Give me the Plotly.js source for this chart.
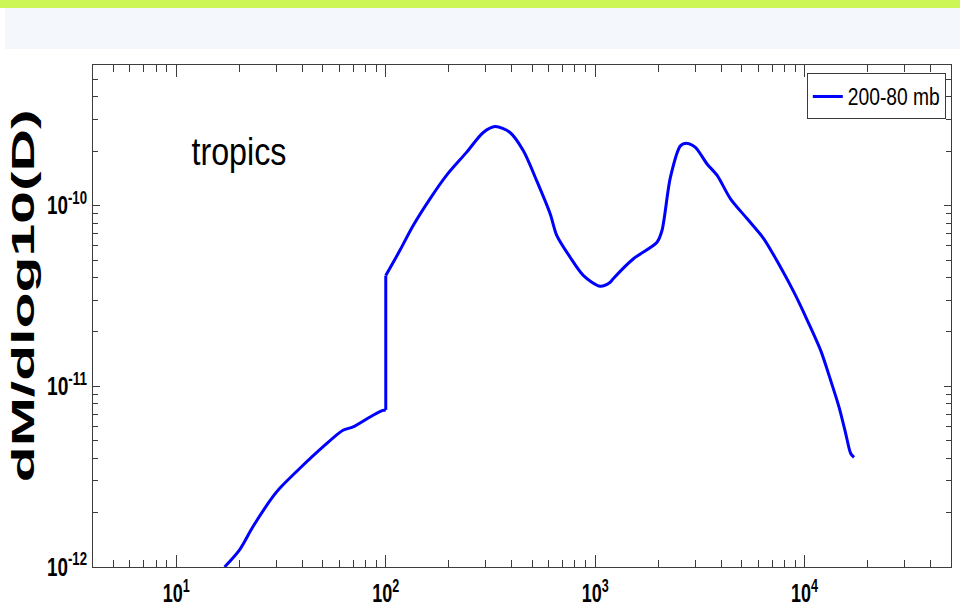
<!DOCTYPE html>
<html>
<head>
<meta charset="utf-8">
<script src="https://cdn.plot.ly/plotly-3.0.1.min.js"></script>
<style>
  html, body { margin: 0; padding: 0; background: #ffffff; }
  #wrap { position: relative; width: 960px; height: 606px; overflow: hidden; }
  #topbar { position: absolute; left: 0; top: 0; width: 960px; height: 8px; background: #ccf556; }
  #band { position: absolute; left: 5px; top: 8px; width: 955px; height: 41px; background: #f4f8fc; }
  #chart { position: absolute; left: 0; top: 0; width: 960px; height: 606px; }
</style>
</head>
<body>
<div id="wrap">
  <div id="topbar"></div>
  <div id="band"></div>
  <div id="chart"></div>
</div>
<script>
// Mass size distribution, 200-80 mb layer, tropics
// small particles, up to the step at D = 100
const diameterSmall = [17.0, 20.0, 23.2, 28.9, 31.1, 38.8, 50.1, 62.5, 69.8, 86.9, 97.0, 100];
const dMdlogDSmall = [1.0e-12, 1.24e-12, 1.67e-12, 2.45e-12, 2.72e-12, 3.51e-12, 4.62e-12,
  5.71e-12, 5.96e-12, 6.92e-12, 7.36e-12, 7.4e-12];
// large particles, from the step at D = 100
const diameterLarge = [100, 116.7, 135.2, 162.6, 195, 243, 292, 333, 392, 454, 526, 610, 656,
  759, 879, 1057, 1180, 1219, 1523, 1973, 2084, 2285, 2553, 2748, 3009, 3421, 3822, 4426,
  5321, 6385, 7677, 8890, 10300, 11930, 13310, 14590, 15710, 16600, 17210];
const dMdlogDLarge = [4.1e-11, 5.64e-11, 7.76e-11, 1.09e-10, 1.47e-10, 1.97e-10, 2.54e-10,
  2.74e-10, 2.54e-10, 2.01e-10, 1.37e-10, 8.99e-11, 6.82e-11, 5.18e-11, 4.10e-11, 3.58e-11,
  3.77e-11, 3.94e-11, 5.08e-11, 6.27e-11, 7.28e-11, 1.43e-10, 2.14e-10, 2.21e-10, 2.10e-10,
  1.70e-10, 1.47e-10, 1.09e-10, 8.45e-11, 6.55e-11, 4.56e-11, 3.32e-11, 2.32e-11, 1.58e-11,
  1.08e-11, 7.69e-12, 5.48e-12, 4.25e-12, 4.04e-12];

const seriesName = '200-80 mb';
const regionLabel = 'tropics';
const yTitle = 'dM/dlog10(D)';

const xTickVals = [10, 100, 1000, 10000];
const xTickText = ['10<sup>1</sup>', '10<sup>2</sup>', '10<sup>3</sup>', '10<sup>4</sup>'];
const yTickVals = [1e-12, 1e-11, 1e-10];
const yTickText = ['10<sup>-12</sup>', '10<sup>-11</sup>', '10<sup>-10</sup>'];

// minor ticks at 2..9 of every decade
function minorTicks(lo, hi) {
  const out = [];
  for (let e = lo; e <= hi; e++) {
    for (let m = 2; m <= 9; m++) out.push(m * Math.pow(10, e));
  }
  return out;
}

const sans = 'Liberation Sans, Arial, Helvetica, sans-serif';
const axisColor = '#3c3c3c';
const lineStyle = { color: '#0000ff', width: 3 };

const traces = [
  {
    x: diameterSmall, y: dMdlogDSmall, type: 'scatter', mode: 'lines',
    name: seriesName, legendgroup: 'g', showlegend: true,
    line: Object.assign({ shape: 'spline', smoothing: 0.8 }, lineStyle)
  },
  {
    // vertical step at D = 100
    x: [diameterSmall[diameterSmall.length - 1], diameterLarge[0]],
    y: [dMdlogDSmall[dMdlogDSmall.length - 1], dMdlogDLarge[0]],
    type: 'scatter', mode: 'lines', legendgroup: 'g', showlegend: false,
    line: Object.assign({ shape: 'linear' }, lineStyle)
  },
  {
    x: diameterLarge, y: dMdlogDLarge, type: 'scatter', mode: 'lines',
    legendgroup: 'g', showlegend: false,
    line: Object.assign({ shape: 'spline', smoothing: 0.8 }, lineStyle)
  }
];

const layout = {
  width: 960,
  height: 606,
  margin: { l: 93, r: 9, t: 65, b: 39, pad: 0 },
  paper_bgcolor: 'rgba(0,0,0,0)',
  plot_bgcolor: '#ffffff',
  showlegend: true,
  xaxis: {
    type: 'log',
    range: [Math.log10(4), Math.log10(50000)],
    tickmode: 'array',
    tickvals: xTickVals,
    ticktext: xTickText,
    ticks: 'inside',
    ticklen: 12,
    tickwidth: 1,
    tickcolor: axisColor,
    ticklabelstandoff: 4,
    showline: true,
    linecolor: axisColor,
    linewidth: 1,
    mirror: 'ticks',
    showgrid: false,
    zeroline: false,
    tickfont: { family: sans, size: 25, color: '#000000', weight: 'bold' },
    minor: {
      tickmode: 'array',
      tickvals: minorTicks(0, 4),
      ticks: 'inside',
      ticklen: 7,
      tickcolor: axisColor,
      showgrid: false
    }
  },
  yaxis: {
    type: 'log',
    range: [-12, Math.log10(6e-10)],
    tickmode: 'array',
    tickvals: yTickVals,
    ticktext: yTickText,
    ticks: 'inside',
    ticklen: 7,
    tickwidth: 1,
    tickcolor: axisColor,
    showline: true,
    linecolor: axisColor,
    linewidth: 1,
    mirror: 'ticks',
    showgrid: false,
    zeroline: false,
    tickfont: { family: sans, size: 25, color: '#000000', weight: 'bold' },
    minor: {
      tickmode: 'array',
      tickvals: minorTicks(-12, -10),
      ticks: 'inside',
      ticklen: 5,
      tickcolor: axisColor,
      showgrid: false
    }
  },
  legend: {
    x: 0.994,
    y: 0.984,
    xanchor: 'right',
    yanchor: 'top',
    bgcolor: '#ffffff',
    bordercolor: axisColor,
    borderwidth: 1,
    font: { family: sans, size: 23, color: '#000000' },
    itemwidth: 30,
    tracegroupgap: 0
  },
  annotations: [
    {
      text: yTitle,
      xref: 'paper', yref: 'paper',
      x: -0.081, y: 0.539,
      xanchor: 'center', yanchor: 'middle',
      textangle: -90,
      showarrow: false,
      font: { family: sans, size: 31, color: '#000000', weight: 'bold' }
    },
    {
      text: regionLabel,
      xref: 'paper', yref: 'paper',
      x: 0.103, y: 0.827,
      xanchor: 'left', yanchor: 'middle',
      showarrow: false,
      font: { family: sans, size: 38, color: '#000000' }
    }
  ]
};

// fit a text element to a given advance width (condensed or widened glyphs)
function fitWidth(el, w) {
  if (!el) return;
  el.setAttribute('textLength', String(w));
  el.setAttribute('lengthAdjust', 'spacingAndGlyphs');
}

function parseTranslate(s) {
  const m = /translate\(\s*([-\d.e]+)[ ,]+([-\d.e]+)\s*\)/.exec(s || '');
  return m ? [parseFloat(m[1]), parseFloat(m[2])] : [0, 0];
}

Plotly.newPlot('chart', traces, layout, { displayModeBar: false, staticPlot: true }).then(function (gd) {
  fitWidth(gd.querySelector('g.annotation[data-index="0"] text.annotation-text'), 373);
  fitWidth(gd.querySelector('g.annotation[data-index="1"] text.annotation-text'), 95);
  gd.querySelectorAll('g.xtick text').forEach(function (t) { fitWidth(t, 27); });
  gd.querySelectorAll('g.ytick text').forEach(function (t) { fitWidth(t, 40); });

  // condensed legend label; resize the legend box, keeping its right edge
  const leg = gd.querySelector('g.legend');
  const label = leg && leg.querySelector('text.legendtext');
  const bg = leg && leg.querySelector('rect.bg');
  const box = { top: 73, height: 45, center: 96 };
  if (label && bg) {
    const natural = label.getComputedTextLength();
    const target = 92;
    fitWidth(label, target);
    const oldW = parseFloat(bg.getAttribute('width'));
    const oldH = parseFloat(bg.getAttribute('height'));
    const newW = oldW - (natural - target);
    bg.setAttribute('width', String(newW));
    bg.setAttribute('height', String(box.height));
    const tr = parseTranslate(leg.getAttribute('transform'));
    leg.setAttribute('transform', 'translate(' + (tr[0] + oldW - newW) + ',' + box.top + ')');
    // keep the entry centred in the taller box
    const scroll = leg.querySelector('g.scrollbox');
    if (scroll) {
      const st = parseTranslate(scroll.getAttribute('transform'));
      const dy = (box.center - box.top) - oldH / 2;
      scroll.setAttribute('transform', 'translate(' + st[0] + ',' + (st[1] + dy) + ')');
    }
  }
});
</script>
</body>
</html>
